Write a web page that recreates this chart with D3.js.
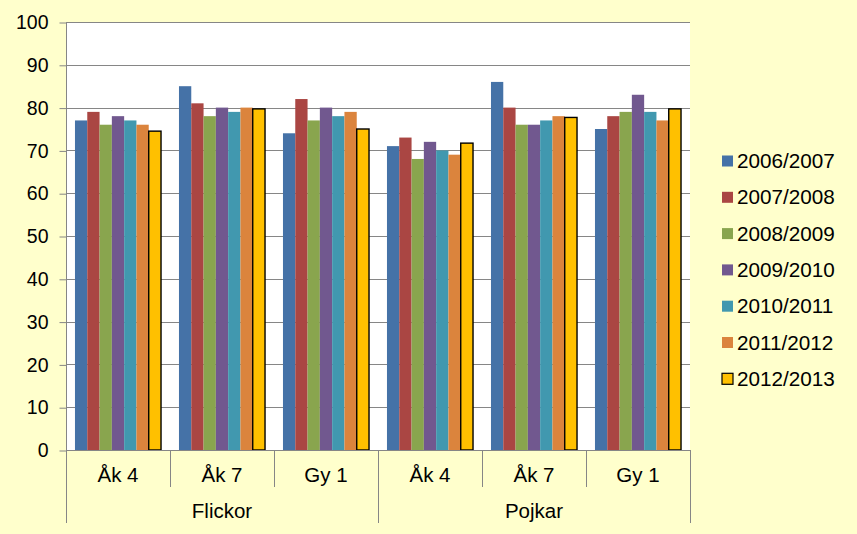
<!DOCTYPE html>
<html><head><meta charset="utf-8">
<script src="https://cdn.jsdelivr.net/npm/d3@7"></script>
<style>html,body{margin:0;padding:0;background:#FFFFCC;}svg{display:block;}</style>
</head><body>
<script>
const groups = ["Flickor", "Pojkar"];
const grades = ["Åk 4", "Åk 7", "Gy 1"];
const series = ["2006/2007","2007/2008","2008/2009","2009/2010","2010/2011","2011/2012","2012/2013"];
const colors = ["#4572A7","#AA4643","#89A54E","#71588F","#4198AF","#DB843D","#FFC000"];
// values per series, order: Flickor Åk4, Åk7, Gy1, Pojkar Åk4, Åk7, Gy1
const v2006 = [77, 85, 74, 71, 86, 75];
const v2007 = [79, 81, 82, 73, 80, 78];
const v2008 = [76, 78, 77, 68, 76, 79];
const v2009 = [78, 80, 80, 72, 76, 83];
const v2010 = [77, 79, 78, 70, 77, 79];
const v2011 = [76, 80, 79, 69, 78, 77];
const v2012 = [74.5, 79.7, 75, 71.7, 77.7, 79.7];
const values = [v2006, v2007, v2008, v2009, v2010, v2011, v2012];
const yTicks = [0,10,20,30,40,50,60,70,80,90,100];

(function(){
const W = 857, H = 534;
const pL = 66, pR = 690, pT = 22, pB = 450;
const FONT = "'Liberation Sans', Arial, sans-serif";
const svg = d3.select("body").append("svg").attr("width", W).attr("height", H)
  .style("font-family", FONT);
svg.append("rect").attr("width", W).attr("height", H).attr("fill", "#FFFFCC");
svg.append("rect").attr("x", pL).attr("y", pT).attr("width", pR-pL).attr("height", pB-pT).attr("fill", "#FFFFFF");

const cats = [];
groups.forEach(g => grades.forEach(c => cats.push(g + "|" + c)));
const x = d3.scaleBand().domain(cats).range([pL, pR]).padding(0);
const xs = d3.scaleBand().domain(series).range([0, x.bandwidth()]).paddingInner(0).paddingOuter(0.73);
const y = d3.scaleLinear().domain([0, 100]).range([pB, pT]);

// gridlines
svg.append("g").selectAll("line").data(yTicks.filter(t => t > 0)).join("line")
  .attr("x1", pL).attr("x2", pR).attr("y1", d => Math.round(y(d)) + 0.5).attr("y2", d => Math.round(y(d)) + 0.5)
  .attr("stroke", "#868686").attr("stroke-width", 1);

// y axis
const yAxis = d3.axisLeft(y).tickValues(yTicks).tickSize(7).tickPadding(11);
const ya = svg.append("g").attr("transform", `translate(${pL + 0.5},0.5)`).call(yAxis);
ya.select(".domain").attr("stroke", "#868686").attr("d", `M0,${pT}V${pB}`);
ya.selectAll(".tick line").attr("stroke", "#868686");
ya.selectAll(".tick text").attr("font-size", 19.5).attr("fill", "#000").attr("font-family", FONT);

// bars
series.forEach((s, si) => {
  svg.append("g").selectAll("rect").data(values[si]).join("rect")
    .attr("x", (d, i) => x(cats[i]) + xs(s))
    .attr("y", d => y(d))
    .attr("width", xs.bandwidth())
    .attr("height", d => y(0) - y(d))
    .attr("fill", colors[si])
    .attr("stroke", si === 6 ? "#000" : "none")
    .attr("stroke-width", si === 6 ? 1.4 : 0);
});

// x axis line
svg.append("line").attr("x1", pL).attr("x2", pR).attr("y1", pB + 0.5).attr("y2", pB + 0.5).attr("stroke", "#868686");
// separators
cats.forEach((c, i) => {
  const xx = Math.round(x(c)) + 0.5;
  const outer = i % 3 === 0;
  svg.append("line").attr("x1", xx).attr("x2", xx).attr("y1", pB).attr("y2", outer ? 523 : 487).attr("stroke", "#868686");
});
svg.append("line").attr("x1", pR + 0.5).attr("x2", pR + 0.5).attr("y1", pB).attr("y2", 523).attr("stroke", "#868686");

// category labels
svg.append("g").selectAll("text").data(cats).join("text")
  .attr("x", d => x(d) + x.bandwidth() / 2).attr("y", 482)
  .attr("text-anchor", "middle").attr("font-size", 20.5).text(d => d.split("|")[1]);
svg.append("g").selectAll("text").data(groups).join("text")
  .attr("x", (g, i) => x(g + "|" + grades[0]) + x.bandwidth() * 1.5).attr("y", 518)
  .attr("text-anchor", "middle").attr("font-size", 20.5).text(d => d);

// legend
const lg = svg.append("g");
series.forEach((s, i) => {
  const cy = 161 + i * 36.3;
  lg.append("rect").attr("x", 722).attr("y", cy - 5.5).attr("width", 11).attr("height", 11)
    .attr("fill", colors[i]).attr("stroke", i === 6 ? "#000" : "none").attr("stroke-width", 1.2);
  lg.append("text").attr("x", 737).attr("y", cy + 7).attr("font-size", 20.7).text(s);
});
})();
</script>
</body></html>
